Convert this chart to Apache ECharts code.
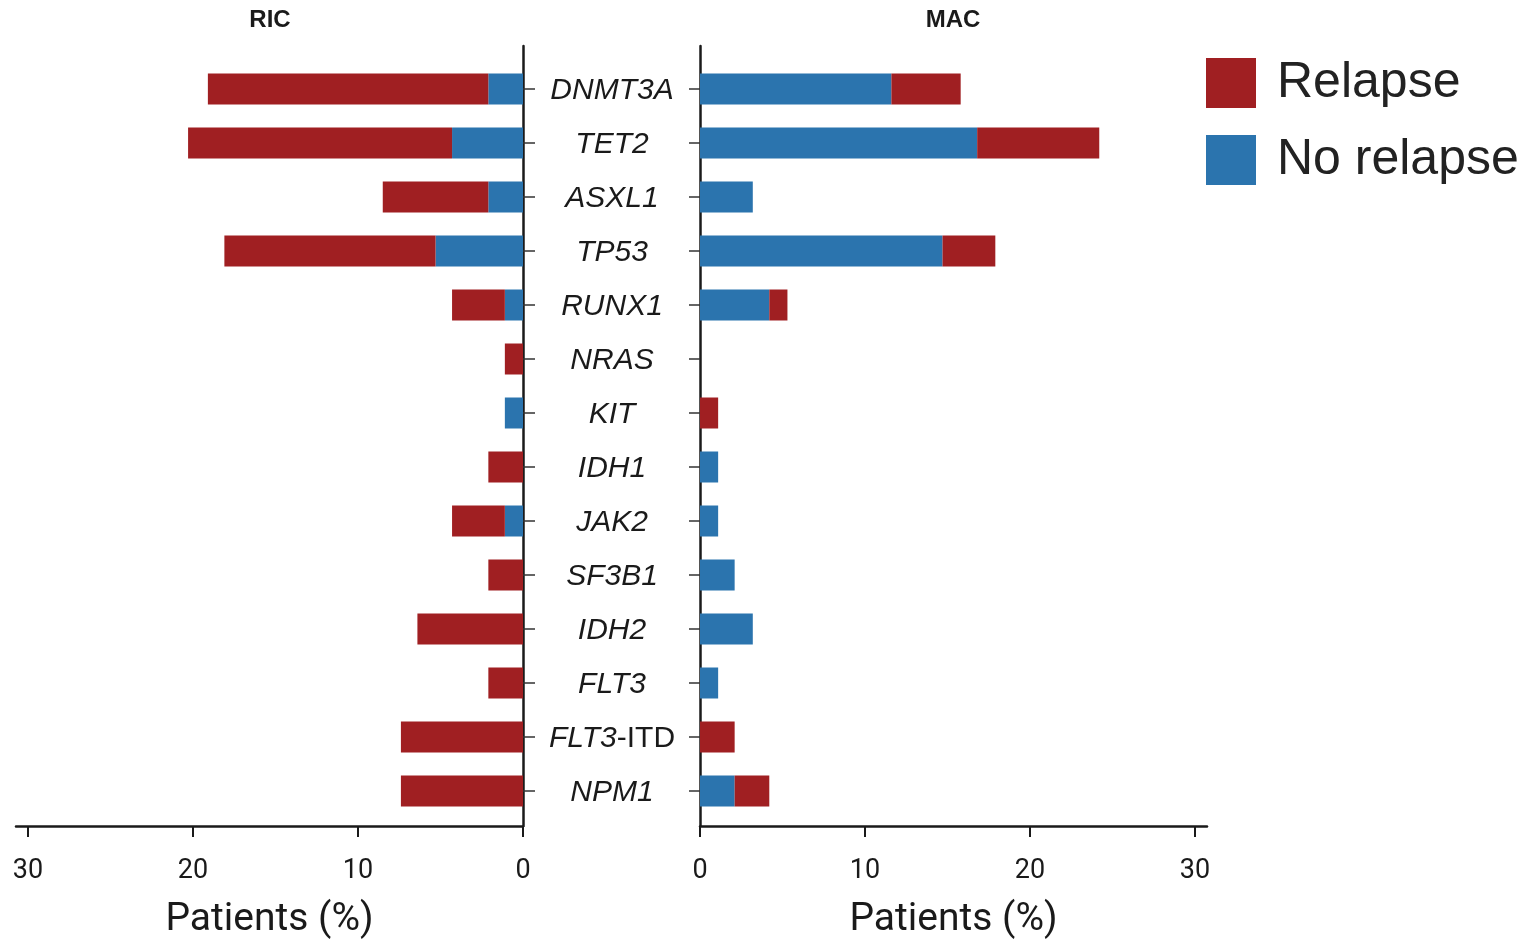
<!DOCTYPE html>
<html>
<head>
<meta charset="utf-8">
<script src="https://cdn.jsdelivr.net/npm/echarts@6/dist/echarts.min.js"></script>
<style>
  html, body { margin: 0; padding: 0; background: #ffffff; }
  #chart { width: 1527px; height: 945px; }
</style>
</head>
<body>
<div id="chart"></div>
<script>
// Mutated genes, top to bottom
const genes = ['DNMT3A', 'TET2', 'ASXL1', 'TP53', 'RUNX1', 'NRAS', 'KIT', 'IDH1', 'JAK2', 'SF3B1', 'IDH2', 'FLT3', 'FLT3-ITD', 'NPM1'];

// RIC cohort, % of patients (stacked: no relapse inner, relapse outer)
const ricNoRelapse = [2.1, 4.3, 2.1, 5.3, 1.1, 0, 1.1, 0, 1.1, 0, 0, 0, 0, 0];
const ricRelapse   = [17.0, 16.0, 6.4, 12.8, 3.2, 1.1, 0, 2.1, 3.2, 2.1, 6.4, 2.1, 7.4, 7.4];

// MAC cohort, % of patients
const macNoRelapse = [11.6, 16.8, 3.2, 14.7, 4.2, 0, 0, 1.1, 1.1, 2.1, 3.2, 1.1, 0, 2.1];
const macRelapse   = [4.2, 7.4, 0, 3.2, 1.1, 0, 1.1, 0, 0, 0, 0, 0, 2.1, 2.1];

const xTicks = [0, 10, 20, 30];
const xMax = 30.73;

const RED = '#A01F22';
const BLUE = '#2B74AE';
const INK = '#1a1a1a';
const FONT = 'Roboto, "Liberation Sans", sans-serif';
const SANS = '"Liberation Sans", Arial, sans-serif';

const chart = echarts.init(document.getElementById('chart'), null, { renderer: 'canvas' });

const barsTop = 62, barsBottom = 945 - 818;
const frameTop = 46, frameBottom = 945 - 833;
const leftL = 16, leftR = 1527 - 523;
const rightL = 700, rightR = 1527 - 1207;

function frameX(gridIndex, inverse) {
  return {
    type: 'value', gridIndex, min: 0, max: xMax, inverse,
    position: 'bottom',
    axisLine: { show: true, lineStyle: { color: INK, width: 2.5 } },
    axisTick: { show: true, length: 11, inside: false, customValues: xTicks, lineStyle: { color: INK, width: 2 } },
    axisLabel: { show: true, customValues: xTicks, margin: 32, fontSize: 27, color: INK, fontFamily: FONT },
    splitLine: { show: false },
    name: 'Patients (%)', nameLocation: 'middle', nameGap: 75,
    nameTextStyle: { fontSize: 39, color: INK, fontFamily: FONT }
  };
}
function hiddenX(gridIndex, inverse) {
  return { type: 'value', gridIndex, min: 0, max: xMax, inverse, show: false };
}

const option = {
  backgroundColor: '#ffffff',
  animation: false,
  title: [
    { text: 'RIC', left: 270, top: 8, textAlign: 'center', padding: 0,
      textStyle: { fontSize: 24, fontWeight: 'bold', color: INK, fontFamily: SANS } },
    { text: 'MAC', left: 953, top: 8, textAlign: 'center', padding: 0,
      textStyle: { fontSize: 24, fontWeight: 'bold', color: INK, fontFamily: SANS } }
  ],
  legend: {
    data: ['Relapse', 'No relapse'],
    orient: 'vertical', left: 1206, top: 58, padding: 0,
    itemWidth: 50, itemHeight: 50, itemGap: 27, icon: 'rect',
    textStyle: { fontSize: 50, color: '#222', fontFamily: SANS, padding: [5, 0, 0, 16] }
  },
  grid: [
    { left: leftL, right: leftR, top: barsTop, bottom: barsBottom },
    { left: rightL, right: rightR, top: barsTop, bottom: barsBottom },
    { left: leftL, right: leftR, top: frameTop, bottom: frameBottom },
    { left: rightL, right: rightR, top: frameTop, bottom: frameBottom }
  ],
  xAxis: [
    hiddenX(0, true),
    hiddenX(1, false),
    frameX(2, true),
    frameX(3, false)
  ],
  yAxis: [
    { type: 'category', gridIndex: 0, data: genes, inverse: true, position: 'right',
      axisLine: { show: false },
      axisTick: { show: true, alignWithLabel: true, length: 12, lineStyle: { color: '#333', width: 1.5 } },
      axisLabel: {
        show: true, margin: 89, align: 'center', color: INK,
        formatter: v => v === 'FLT3-ITD' ? '{i|FLT3}{n|-ITD}' : '{i|' + v + '}',
        rich: {
          i: { fontSize: 30, fontStyle: 'italic', color: INK, fontFamily: SANS, padding: [4, 0, 0, 0] },
          n: { fontSize: 30, color: INK, fontFamily: SANS, padding: [4, 0, 0, 0] }
        }
      }
    },
    { type: 'category', gridIndex: 1, data: genes, inverse: true, position: 'left',
      axisLine: { show: false },
      axisTick: { show: true, alignWithLabel: true, length: 11, lineStyle: { color: '#333', width: 1.5 } },
      axisLabel: { show: false }
    },
    { type: 'value', gridIndex: 2, min: 0, max: 1, position: 'right',
      axisLine: { show: true, lineStyle: { color: INK, width: 2.5 } },
      axisTick: { show: false }, axisLabel: { show: false }, splitLine: { show: false } },
    { type: 'value', gridIndex: 3, min: 0, max: 1, position: 'left',
      axisLine: { show: true, lineStyle: { color: INK, width: 2.5 } },
      axisTick: { show: false }, axisLabel: { show: false }, splitLine: { show: false } }
  ],
  series: [
    { name: 'No relapse', type: 'bar', stack: 'ric', xAxisIndex: 0, yAxisIndex: 0, data: ricNoRelapse,
      barWidth: 31, itemStyle: { color: BLUE } },
    { name: 'Relapse', type: 'bar', stack: 'ric', xAxisIndex: 0, yAxisIndex: 0, data: ricRelapse,
      barWidth: 31, itemStyle: { color: RED } },
    { name: 'No relapse', type: 'bar', stack: 'mac', xAxisIndex: 1, yAxisIndex: 1, data: macNoRelapse,
      barWidth: 31, itemStyle: { color: BLUE } },
    { name: 'Relapse', type: 'bar', stack: 'mac', xAxisIndex: 1, yAxisIndex: 1, data: macRelapse,
      barWidth: 31, itemStyle: { color: RED } }
  ]
};

chart.setOption(option);
</script>
</body>
</html>
